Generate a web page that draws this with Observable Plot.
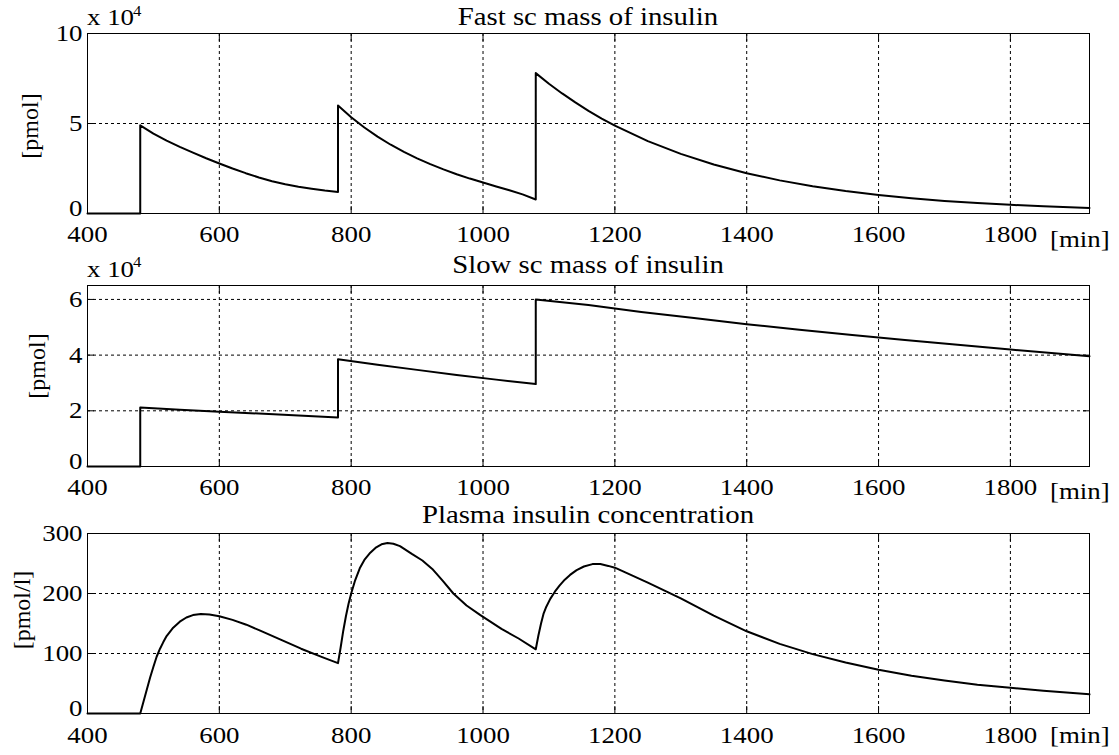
<!DOCTYPE html>
<html>
<head>
<meta charset="utf-8">
<script src="https://cdn.jsdelivr.net/npm/d3@7"></script>
<script src="https://cdn.jsdelivr.net/npm/@observablehq/plot@0.6"></script>
<style>
  html, body { margin: 0; padding: 0; background: white; }
  #wrap { position: relative; width: 1119px; height: 755px; overflow: hidden; background: white; }
  #wrap > svg { position: absolute; left: 0; }
</style>
</head>
<body>
<div id="wrap"></div>
<script>
// ---- data ----
const xTicks = [400, 600, 800, 1000, 1200, 1400, 1600, 1800];

const fastTicks = [0, 5, 10];
const fastTime = [400, 480, 480, 500, 520, 540, 560, 580, 600, 620, 640, 660, 680, 700, 720, 740, 760, 780,
  780, 800, 820, 840, 860, 880, 900, 920, 940, 960, 980, 1000, 1020, 1040, 1060, 1080,
  1080, 1100, 1120, 1140, 1160, 1180, 1200, 1250, 1300, 1350, 1400, 1450, 1500, 1550, 1600, 1650, 1700, 1750, 1800, 1850, 1920];
const fastMass = [0, 0, 4.9, 4.44, 4.05, 3.7, 3.38, 3.07, 2.78, 2.5, 2.24, 2.0, 1.79, 1.62, 1.49, 1.38, 1.28, 1.2,
  6.0, 5.35, 4.78, 4.27, 3.82, 3.42, 3.06, 2.74, 2.45, 2.18, 1.94, 1.72, 1.5, 1.29, 1.06, 0.78,
  7.8, 7.21, 6.67, 6.17, 5.7, 5.27, 4.88, 4.02, 3.31, 2.72, 2.24, 1.84, 1.52, 1.25, 1.03, 0.85, 0.7, 0.58, 0.48, 0.4, 0.31];

const slowTicks = [0, 2, 4, 6];
const slowTime = [400, 480, 480, 540, 600, 660, 720, 780, 780, 840, 900, 960, 1020, 1080,
  1080, 1160, 1240, 1320, 1400, 1480, 1560, 1640, 1720, 1800, 1880, 1920];
const slowMass = [0, 0, 2.12, 2.04, 1.97, 1.9, 1.83, 1.76, 3.85, 3.65, 3.47, 3.29, 3.12, 2.96,
  6.0, 5.8, 5.55, 5.33, 5.11, 4.91, 4.72, 4.54, 4.37, 4.2, 4.04, 3.96];

const plasmaTicks = [0, 100, 200, 300];
const plasmaTime = [400, 480, 485, 490, 495, 500, 505, 510, 515, 520, 530, 540, 550, 560, 572, 585, 600, 620, 641, 662, 693, 724, 756, 780,
  784, 788, 792, 796, 800, 806, 813, 820, 829, 838, 846, 855, 864, 874, 892, 908, 923, 939, 955, 975, 996, 1028, 1054, 1080,
  1084, 1088, 1092, 1096, 1102, 1109, 1116, 1124, 1132, 1142, 1153, 1166, 1178, 1190, 1200, 1210, 1220,
  1250, 1300, 1350, 1400, 1450, 1500, 1550, 1600, 1650, 1700, 1750, 1800, 1850, 1920];
const plasmaConc = [0, 0, 20, 40, 60, 78, 95, 108, 119, 129, 143, 153, 160, 164, 166, 165, 162, 156, 148, 138, 123, 108, 94, 84,
  110, 138, 162, 183, 200, 222, 242, 256, 268, 277, 282, 284, 283, 279, 266, 255, 241, 221, 200, 180, 164, 141, 125, 107,
  130, 150, 167, 178, 191, 203, 213, 223, 231, 239, 245, 249, 249, 246, 243, 238, 233,
  218, 192, 163, 137, 116, 99, 85, 73, 63, 55, 48, 43, 38, 32];

const panels = [
  {title: "Fast sc mass of insulin", time: fastTime, vals: fastMass, ticks: fastTicks, domain: [0, 10],
   ylabel: "[pmol]", exp: true, top: 0, height: 250, mt: 33, mb: 37, pad: 11,
   titleY: 25, expY: 25, ylabX: 38, ylabY: 126, minY: 247},
  {title: "Slow sc mass of insulin", time: slowTime, vals: slowMass, ticks: slowTicks, domain: [0, 6.5],
   ylabel: "[pmol]", exp: true, top: 250, height: 250, mt: 35, mb: 34, pad: 11,
   titleY: 23, expY: 26.5, ylabX: 45, ylabY: 116, minY: 249},
  {title: "Plasma insulin concentration", time: plasmaTime, vals: plasmaConc, ticks: plasmaTicks, domain: [0, 300],
   ylabel: "[pmol/l]", exp: false, top: 500, height: 255, mt: 33, mb: 42, pad: 12,
   titleY: 23.3, expY: 0, ylabX: 30, ylabY: 110, minY: 243}
];

const W = 1119, ML = 87, MR = 30;
const FONT = "'Liberation Serif', 'Times New Roman', serif";
const wrap = document.getElementById("wrap");
const fmt = d => String(d);
const blank = () => "";

for (const p of panels) {
  const data = p.time.map((t, i) => ({t, v: p.vals[i]}));
  const svg = Plot.plot({
    width: W,
    height: p.height,
    marginLeft: ML,
    marginRight: MR,
    marginTop: p.mt,
    marginBottom: p.mb,
    style: {fontFamily: FONT, fontSize: "24px", color: "black", background: "transparent", overflow: "visible"},
    x: {domain: [400, 1920]},
    y: {domain: p.domain},
    marks: [
      Plot.gridX(xTicks, {stroke: "#000", strokeOpacity: 1, strokeWidth: 1, strokeDasharray: "3,3"}),
      Plot.gridY(p.ticks, {stroke: "#000", strokeOpacity: 1, strokeWidth: 1, strokeDasharray: "3,3"}),
      Plot.axisX({ticks: xTicks, tickSize: 0, tickPadding: p.pad, tickFormat: fmt, label: null, anchor: "bottom"}),
      Plot.axisX({ticks: xTicks, tickSize: -7, tickFormat: blank, label: null, anchor: "bottom"}),
      Plot.axisX({ticks: xTicks, tickSize: -7, tickFormat: blank, label: null, anchor: "top"}),
      Plot.axisY({ticks: p.ticks.slice(1), tickSize: 0, tickPadding: 5, tickFormat: fmt, label: null, anchor: "left"}),
      Plot.axisY({ticks: p.ticks.slice(0, 1), tickSize: 0, tickPadding: 5, tickFormat: fmt, label: null, anchor: "left", dy: -5}),
      Plot.axisY({ticks: p.ticks, tickSize: -7, tickFormat: blank, label: null, anchor: "left"}),
      Plot.axisY({ticks: p.ticks, tickSize: -7, tickFormat: blank, label: null, anchor: "right"}),
      Plot.frame({stroke: "#000", strokeWidth: 1}),
      Plot.line(data, {x: "t", y: "v", stroke: "#000", strokeWidth: 2, curve: "linear"})
    ]
  });
  svg.style.top = p.top + "px";
  const s = d3.select(svg);
  const cx = ML + (W - ML - MR) / 2;
  s.append("text").attr("x", cx).attr("y", p.titleY).attr("text-anchor", "middle")
    .attr("font-size", 25).attr("fill", "black").attr("data-k", "1.15").text(p.title);
  if (p.exp) {
    s.append("text").attr("x", ML).attr("y", p.expY).attr("text-anchor", "start")
      .attr("font-size", 24).attr("fill", "black").text("x 10");
    s.append("text").attr("x", ML + 46).attr("y", p.expY - 9.5).attr("text-anchor", "start")
      .attr("font-size", 15).attr("fill", "black").text("4");
  }
  s.append("text").attr("transform", `translate(${p.ylabX},${p.ylabY}) rotate(-90)`)
    .attr("text-anchor", "middle").attr("font-size", 24).attr("fill", "black")
    .attr("data-nostretch", "1").text(p.ylabel);
  s.append("text").attr("x", 1050).attr("y", p.minY).attr("text-anchor", "start")
    .attr("font-size", 24).attr("fill", "black").text("[min]");
  wrap.appendChild(svg);

  // serif type everywhere, stretched horizontally to match the reference's wide glyphs
  svg.querySelectorAll("text").forEach(t => {
    t.style.fontFamily = FONT;
    if (t.dataset.nostretch) return;
    const k = t.dataset.k ? +t.dataset.k : 1.12;
    const len = t.getComputedTextLength();
    if (len > 0) {
      t.setAttribute("textLength", (len * k).toFixed(2));
      t.setAttribute("lengthAdjust", "spacingAndGlyphs");
    }
  });
}
</script>
</body>
</html>
